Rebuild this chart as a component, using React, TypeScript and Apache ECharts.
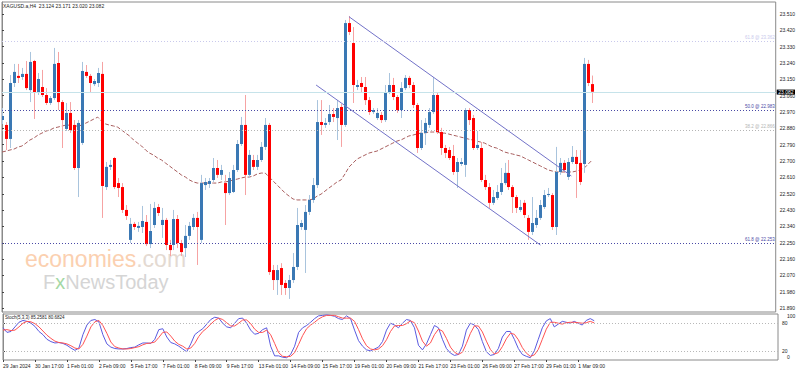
import React, { useEffect, useRef } from 'react';
import * as echarts from 'echarts';

const headerText = 'XAGUSD.a,H4  23.124 23.171 23.020 23.082';
const stochText = 'Stoch(5,3,3) 85.2581 80.6824';

const xTickIndex = [0, 8, 16, 24, 32, 40, 48, 56, 64, 72, 80, 88, 96, 104, 112, 120, 128, 136, 144];
const xTickLabels = ['29 Jan 2024', '30 Jan 17:00', '1 Feb 01:00', '2 Feb 09:00', '5 Feb 17:00', '7 Feb 01:00', '8 Feb 09:00', '9 Feb 17:00', '13 Feb 01:00', '14 Feb 09:00', '15 Feb 17:00', '19 Feb 01:00', '20 Feb 09:00', '21 Feb 17:00', '23 Feb 01:00', '26 Feb 09:00', '27 Feb 17:00', '29 Feb 01:00', '1 Mar 09:00'];
const priceTicks = [23.51, 23.42, 23.33, 23.24, 23.15, 23.06, 22.97, 22.88, 22.79, 22.7, 22.61, 22.52, 22.43, 22.34, 22.25, 22.16, 22.07, 21.98, 21.89];
const stochTicks = [20, 80];

const opens = [22.926,22.899,22.822,23.130,23.169,23.163,23.180,23.091,23.251,23.080,
23.108,23.064,23.020,23.047,23.240,23.025,22.877,22.965,22.899,22.662,
22.800,23.191,23.169,23.124,23.130,23.180,22.557,22.668,22.717,22.579,
22.557,22.431,22.266,22.354,22.332,22.337,22.365,22.243,22.348,22.447,
22.348,22.376,22.238,22.238,22.381,22.249,22.221,22.288,22.337,22.387,
22.266,22.568,22.574,22.596,22.662,22.624,22.579,22.524,22.530,22.651,
22.794,22.899,22.624,22.706,22.668,22.706,22.778,22.899,22.100,22.045,
22.111,22.029,22.001,22.045,22.117,22.337,22.321,22.420,22.486,22.568,
22.915,22.899,22.915,22.959,22.937,22.998,22.899,23.460,23.350,23.108,
23.130,23.108,23.036,22.970,22.937,22.954,22.926,23.080,23.119,23.053,
22.981,23.102,23.158,23.119,23.009,22.772,22.855,22.899,22.970,23.064,
22.860,22.772,22.761,22.728,22.640,22.684,22.679,22.981,22.937,22.772,
22.772,22.596,22.557,22.470,22.497,22.530,22.579,22.635,22.557,22.502,
22.431,22.470,22.387,22.310,22.348,22.387,22.447,22.513,22.513,22.337,
22.640,22.690,22.613,22.695,22.723,22.690,22.684,23.235,23.124];
const highs = [22.992,22.915,23.174,23.235,23.235,23.213,23.251,23.301,23.257,23.185,
23.202,23.102,23.058,23.323,23.301,23.036,23.020,23.025,22.926,22.926,
23.246,23.229,23.180,23.152,23.213,23.246,22.695,22.706,22.723,22.607,
22.579,22.458,22.387,22.365,22.365,22.453,22.403,22.464,22.475,22.464,
22.442,22.387,22.266,22.431,22.403,22.266,22.348,22.365,22.409,22.420,
22.624,22.607,22.607,22.717,22.706,22.679,22.624,22.640,22.679,22.816,
22.943,23.064,22.761,22.734,22.734,22.805,22.937,22.910,22.128,22.128,
22.138,22.045,22.073,22.194,22.442,22.376,22.458,22.513,22.607,23.036,
23.036,22.937,23.009,22.992,23.036,23.014,23.477,23.499,23.438,23.147,
23.163,23.163,23.053,22.992,22.992,22.970,23.119,23.185,23.158,23.064,
23.135,23.174,23.169,23.135,23.020,22.926,22.937,22.992,23.163,23.075,
22.883,22.789,22.778,22.789,22.717,22.717,22.992,22.992,22.954,22.866,
22.805,22.624,22.579,22.541,22.568,22.662,22.690,22.706,22.568,22.513,
22.486,22.486,22.403,22.502,22.431,22.486,22.541,22.552,22.524,22.778,
22.717,22.706,22.717,22.783,22.761,22.761,23.268,23.257,23.171];
const lows = [22.904,22.761,22.772,23.108,23.130,23.147,23.091,23.025,22.932,23.064,
23.053,23.009,23.009,23.036,22.981,22.772,22.866,22.855,22.651,22.502,
22.789,23.158,23.080,23.113,23.108,22.387,22.541,22.651,22.546,22.502,
22.414,22.376,22.249,22.321,22.310,22.304,22.232,22.221,22.332,22.398,
22.277,22.210,22.177,22.210,22.221,22.177,22.172,22.266,22.321,22.128,
22.249,22.541,22.552,22.585,22.607,22.596,22.348,22.513,22.524,22.640,
22.783,22.513,22.607,22.651,22.651,22.695,22.761,22.073,21.990,21.963,
21.963,21.963,21.941,22.029,22.100,22.321,22.084,22.403,22.470,22.552,
22.844,22.883,22.899,22.915,22.816,22.778,22.888,23.394,23.020,23.091,
23.080,23.009,22.954,22.959,22.926,22.910,22.915,23.069,23.036,22.965,
22.937,23.091,23.102,22.992,22.745,22.761,22.789,22.883,22.959,22.849,
22.734,22.717,22.706,22.624,22.552,22.673,22.613,22.899,22.761,22.761,
22.585,22.541,22.442,22.458,22.486,22.513,22.568,22.541,22.414,22.414,
22.420,22.387,22.266,22.293,22.332,22.376,22.436,22.502,22.321,22.293,
22.624,22.635,22.596,22.684,22.497,22.568,22.635,23.113,23.020];
const closes = [22.948,22.822,23.130,23.191,23.158,23.180,23.102,23.246,23.080,23.152,
23.064,23.020,23.047,23.235,23.025,22.926,22.965,22.871,22.662,22.910,
23.196,23.169,23.130,23.141,23.185,22.563,22.668,22.679,22.557,22.552,
22.431,22.398,22.354,22.337,22.343,22.370,22.243,22.315,22.442,22.414,
22.376,22.238,22.210,22.381,22.249,22.199,22.288,22.343,22.387,22.337,
22.579,22.585,22.590,22.662,22.624,22.651,22.524,22.607,22.651,22.794,
22.899,22.624,22.734,22.668,22.706,22.778,22.899,22.089,22.045,22.100,
22.018,22.001,22.045,22.117,22.348,22.359,22.420,22.486,22.568,22.915,
22.899,22.910,22.959,22.943,22.992,22.899,23.460,23.411,23.119,23.119,
23.108,23.036,22.970,22.981,22.965,22.926,23.080,23.119,23.053,22.981,
23.102,23.158,23.119,23.009,22.772,22.855,22.910,22.970,23.064,22.860,
22.772,22.745,22.717,22.640,22.695,22.695,22.981,22.926,22.772,22.789,
22.596,22.557,22.470,22.502,22.530,22.579,22.635,22.557,22.502,22.442,
22.447,22.403,22.310,22.359,22.387,22.458,22.513,22.519,22.337,22.640,
22.690,22.651,22.695,22.723,22.684,22.585,23.235,23.130,23.082];

const movingAvg = [22.750,22.755,22.761,22.766,22.777,22.783,22.799,22.816,22.827,22.843,
22.854,22.865,22.871,22.882,22.887,22.893,22.898,22.898,22.893,22.893,
22.898,22.909,22.920,22.931,22.942,22.920,22.904,22.898,22.893,22.887,
22.871,22.854,22.838,22.816,22.799,22.783,22.761,22.744,22.733,22.717,
22.706,22.689,22.673,22.656,22.640,22.623,22.612,22.596,22.585,22.579,
22.579,22.579,22.579,22.579,22.579,22.585,22.585,22.590,22.596,22.601,
22.607,22.612,22.612,22.618,22.629,22.634,22.634,22.612,22.590,22.568,
22.546,22.524,22.507,22.491,22.486,22.486,22.486,22.486,22.491,22.507,
22.518,22.535,22.552,22.568,22.585,22.596,22.629,22.667,22.689,22.711,
22.722,22.733,22.744,22.750,22.755,22.766,22.777,22.788,22.799,22.810,
22.816,22.827,22.838,22.843,22.849,22.854,22.854,22.860,22.860,22.860,
22.854,22.854,22.849,22.843,22.838,22.832,22.827,22.821,22.816,22.810,
22.805,22.799,22.788,22.777,22.772,22.761,22.750,22.744,22.739,22.733,
22.728,22.717,22.706,22.695,22.684,22.673,22.662,22.651,22.645,22.640,
22.640,22.640,22.640,22.640,22.645,22.651,22.662,22.684,22.706];

const stochK = [70,60,62,72,82,86,84,80,73,62, 55,45,40,37,38,36,32,26,21,26,
55,76,86,88,83,55,35,28,25,24, 24,25,27,28,33,37,37,36,45,66,
68,50,38,35,30,24,18,35,55,62, 68,78,88,93,91,80,72,70,80,90,
91,80,65,56,58,66,70,30,9,9, 6,5,12,30,60,70,75,82,90,96,
97,98,97,95,90,88,96,90,65,42, 30,22,20,24,28,40,65,80,76,70,
80,88,86,70,32,22,35,55,75,70, 45,25,15,10,12,30,65,80,76,66,
40,18,10,12,25,50,62,62,45,25, 12,8,5,20,45,70,85,90,72,78,
84,82,80,84,80,76,86,90,85.26];
const stochD = [65,66,64,65,72,80,84,83,79,72, 63,54,47,41,38,37,35,31,26,24,
34,52,72,83,86,75,58,39,29,26, 24,24,25,27,29,33,36,37,39,49,
60,61,52,41,34,30,24,26,36,51, 62,69,78,86,91,88,81,74,74,80,
87,87,79,67,60,60,65,55,36,16, 8,7,8,16,34,53,68,76,82,89,
94,97,97,97,94,91,91,91,84,66, 46,31,24,22,24,31,44,62,74,75,
75,79,85,81,63,41,30,37,55,67, 63,47,28,17,12,17,36,58,74,74,
61,41,23,13,16,29,46,58,56,44, 27,15,8,11,23,45,67,82,82,80,
78,81,82,82,81,80,81,84,80.68];

// trend channel anchors: [bar index, price]
const channelUpper = [[87, 23.495], [142.75, 22.618]];
const channelLower = [[78.75, 23.119], [135, 22.238]];

const fibNames = ['61.8 @ 23.362', '50.0 @ 22.983', '38.2 @ 22.866', '61.8 @ 22.253'];
const fibPrices = [23.362, 22.983, 22.866, 22.253];
const fibColors = ['#c9c9ec', '#4a4aa6', '#b4b4b4', '#4a4aa6'];
const bidPrice = 23.082;

const FONT = 'Liberation Sans, Arial, sans-serif';
const bullBody = '#3a78b4';
const bearBody = '#ff0000';
const bullWick = '#a9c4dd';
const bearWick = '#f6a3a3';

export default function App() {
  const ref = useRef<HTMLDivElement>(null);
  useEffect(() => {
    document.body.style.margin = '0';
    if (!ref.current) return;
    const chart = echarts.init(ref.current, null, { renderer: 'svg' });
    const candleData = opens.map((o, i) => [i, o, highs[i], lows[i], closes[i]]);
    const fibLines = fibPrices.map((p, i) => ({
      yAxis: p,
      lineStyle: { color: fibColors[i], type: [1, 2], width: 1 },
      label: {
        show: true, position: 'insideEndTop', distance: 1, formatter: fibNames[i],
        color: fibColors[i], fontSize: 4.5, fontFamily: FONT,
      },
    }));
    const option: any = {
      animation: false,
      backgroundColor: '#ffffff',
      grid: [
        { left: 2, top: 2, width: 776, height: 310, show: true, borderColor: '#8a8a8a', borderWidth: 1, backgroundColor: 'transparent' },
        { left: 2, top: 314, width: 776, height: 46, show: true, borderColor: '#8a8a8a', borderWidth: 1, backgroundColor: 'transparent' },
      ],
      xAxis: [
        { type: 'value', gridIndex: 0, min: 0, max: 194, show: false },
        {
          type: 'value', gridIndex: 1, min: 0, max: 194,
          axisLine: { show: false }, splitLine: { show: false },
          axisTick: { show: true, length: 2, customValues: xTickIndex, lineStyle: { color: '#444' } },
          axisLabel: {
            customValues: xTickIndex, align: 'left', margin: 3, fontSize: 5, color: '#222', fontFamily: FONT,
            formatter: (v: number) => xTickLabels[xTickIndex.indexOf(v)] ?? '',
          },
        },
      ],
      yAxis: [
        {
          type: 'value', gridIndex: 0, position: 'right', min: 21.869, max: 23.576,
          splitLine: { show: false },
          axisLine: { show: true, lineStyle: { color: '#8a8a8a' } },
          axisTick: { show: true, length: 2, customValues: priceTicks, lineStyle: { color: '#444' } },
          axisLabel: { customValues: priceTicks, formatter: (v: number) => v.toFixed(3), fontSize: 5, margin: 4, color: '#222', fontFamily: FONT },
        },
        {
          type: 'value', gridIndex: 1, position: 'right', min: 0, max: 100,
          splitLine: { show: false },
          axisLine: { show: true, lineStyle: { color: '#8a8a8a' } },
          axisTick: { show: true, length: 2, customValues: stochTicks, lineStyle: { color: '#444' } },
          axisLabel: { customValues: stochTicks, fontSize: 5, margin: 4, color: '#222', fontFamily: FONT },
        },
      ],
      series: [
        {
          type: 'custom', xAxisIndex: 0, yAxisIndex: 0, clip: true, z: 3,
          data: candleData,
          encode: { x: 0, y: [1, 2, 3, 4] },
          renderItem: (params: any, api: any) => {
            const k = api.value(0);
            const o = api.value(1), h = api.value(2), l = api.value(3), c = api.value(4);
            const pO = api.coord([k, o]);
            const pC = api.coord([k, c]);
            const pH = api.coord([k, h]);
            const pL = api.coord([k, l]);
            const x = Math.round(pO[0]);
            const bull = c >= o;
            const top = Math.min(pO[1], pC[1]);
            const hgt = Math.max(1, Math.abs(pO[1] - pC[1]));
            return {
              type: 'group',
              children: [
                { type: 'line', shape: { x1: x + 0.5, y1: pH[1], x2: x + 0.5, y2: pL[1] }, style: { stroke: bull ? bullWick : bearWick, lineWidth: 1 } },
                { type: 'rect', shape: { x: x - 1, y: top, width: 3, height: hgt }, style: { fill: bull ? bullBody : bearBody } },
              ],
            };
          },
        },
        {
          type: 'line', xAxisIndex: 0, yAxisIndex: 0, z: 2,
          data: movingAvg.map((v, i) => [i, v]),
          showSymbol: false, symbol: 'none',
          lineStyle: { color: '#a85e5e', width: 1, type: [4, 2] },
        },
        {
          type: 'line', xAxisIndex: 0, yAxisIndex: 0, z: 4, clip: false,
          data: channelUpper, showSymbol: false, symbol: 'none',
          lineStyle: { color: '#7272c8', width: 1 },
          markLine: {
            silent: true, symbol: 'none', animation: false,
            data: [
              ...fibLines,
              {
                yAxis: bidPrice,
                lineStyle: { color: '#c6e3ea', type: 'solid', width: 1 },
                label: {
                  show: true, position: 'end', distance: 1, formatter: bidPrice.toFixed(3),
                  color: '#ffffff', backgroundColor: '#000000', padding: [0, 1.5], fontSize: 5, lineHeight: 5, fontFamily: FONT,
                },
              },
            ],
          },
        },
        {
          type: 'line', xAxisIndex: 0, yAxisIndex: 0, z: 4,
          data: channelLower, showSymbol: false, symbol: 'none',
          lineStyle: { color: '#7272c8', width: 1 },
        },
        {
          type: 'line', xAxisIndex: 1, yAxisIndex: 1, z: 3,
          data: stochK.map((v, i) => [i, v]), showSymbol: false, symbol: 'none',
          lineStyle: { color: '#5a5ae0', width: 1 },
          markLine: {
            silent: true, symbol: 'none', animation: false,
            label: { show: false },
            lineStyle: { color: '#b8b8b8', type: [1, 2], width: 1 },
            data: [{ yAxis: 80 }, { yAxis: 20 }],
          },
        },
        {
          type: 'line', xAxisIndex: 1, yAxisIndex: 1, z: 3,
          data: stochD.map((v, i) => [i, v]), showSymbol: false, symbol: 'none',
          lineStyle: { color: '#ff5252', width: 1 },
        },
      ],
      graphic: [
        { type: 'text', x: 3, y: 6, z: 10, style: { text: headerText, fontSize: 5, fill: '#222', fontFamily: FONT, verticalAlign: 'middle' } },
        { type: 'text', x: 5, y: 317, z: 10, style: { text: stochText, fontSize: 4.5, fill: '#222', fontFamily: FONT, verticalAlign: 'middle' } },
        { type: 'text', x: 787, y: 316, z: 10, style: { text: '100', fontSize: 5, fill: '#222', fontFamily: FONT, verticalAlign: 'middle' } },
        { type: 'text', x: 787, y: 357, z: 10, style: { text: '0', fontSize: 5, fill: '#222', fontFamily: FONT, verticalAlign: 'middle' } },
        {
          type: 'text', x: 25, y: 259, z: 0,
          style: {
            text: '{a|economies}{b|.com}', fontFamily: FONT, verticalAlign: 'middle',
            rich: { a: { fontSize: 23, fill: '#fbd0b0', fontFamily: FONT }, b: { fontSize: 23, fill: '#e4dad2', fontFamily: FONT } },
          },
        },
        {
          type: 'text', x: 43, y: 282, z: 0,
          style: {
            text: '{a|F}{x|x}{a|NewsToday}', fontFamily: FONT, verticalAlign: 'middle',
            rich: { a: { fontSize: 20, fill: '#d5d5d5', fontFamily: FONT }, x: { fontSize: 20, fill: '#a5d8a5', fontFamily: FONT } },
          },
        },
      ],
    };
    chart.setOption(option);
    return () => chart.dispose();
  }, []);
  return <div ref={ref} style={{ width: 798, height: 371 }} />;
}
